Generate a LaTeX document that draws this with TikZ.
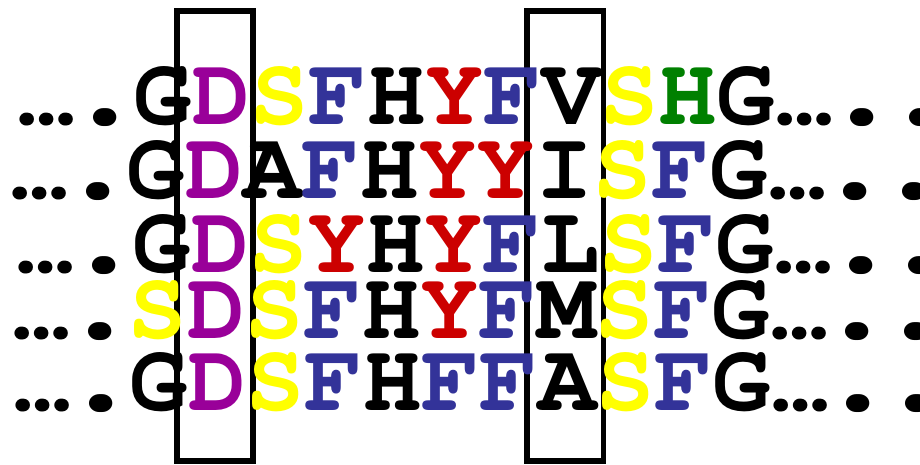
\documentclass[tikz,border=0pt]{standalone}
\usepackage{fontspec}
\newfontfamily\seqfont{texgyrecursor-bold.otf}
\definecolor{aspD}{HTML}{990099}
\definecolor{serS}{HTML}{FFFF00}
\definecolor{aroF}{HTML}{333399}
\definecolor{tyrY}{HTML}{CC0000}
\definecolor{hisH}{HTML}{008000}
\newcommand{\resD}{\textcolor{aspD}{D}}
\newcommand{\resS}{\textcolor{serS}{S}}
\newcommand{\resF}{\textcolor{aroF}{F}}
\newcommand{\resY}{\textcolor{tyrY}{Y}}
\newcommand{\resHg}{\textcolor{hisH}{H}}
\newcommand{\gapdot}{\makebox[0.6em]{\scalebox{1.6}[1.4]{.}}}

\begin{document}
\begin{tikzpicture}[x=0.02cm,y=-0.02cm,
  seqrow/.style={anchor=base west,inner sep=0pt,font=\seqfont\fontsize{55.3pt}{60pt}\selectfont},
  site/.style={draw=black,line width=0.11cm}]
\clip (0,0) rectangle (920,464);
\useasboundingbox (0,0) rectangle (920,464);
% Conserved columns
\draw[site] (177,11) rectangle (253,461);
\draw[site] (527,11) rectangle (603.5,461);
% Aligned sequences
\foreach \i/\x/\y/\seq in {
  1/17/124/{G\resD\resS\resF H\resY\resF V\resS\resHg G},
  2/10/198/{G\resD A\resF H\resY\resY I\resS\resF G},
  3/16/272/{G\resD\resS\resY H\resY\resF L\resS\resF G},
  4/12/338/{\resS\resD\resS\resF H\resY\resF M\resS\resF G},
  5/13/410/{G\resD\resS\resF H\resF\resF A\resS\resF G}} {
  \node[seqrow] (row\i) at (\x,\y) {…\gapdot\seq…\gapdot\gapdot};
}
\end{tikzpicture}
\end{document}
